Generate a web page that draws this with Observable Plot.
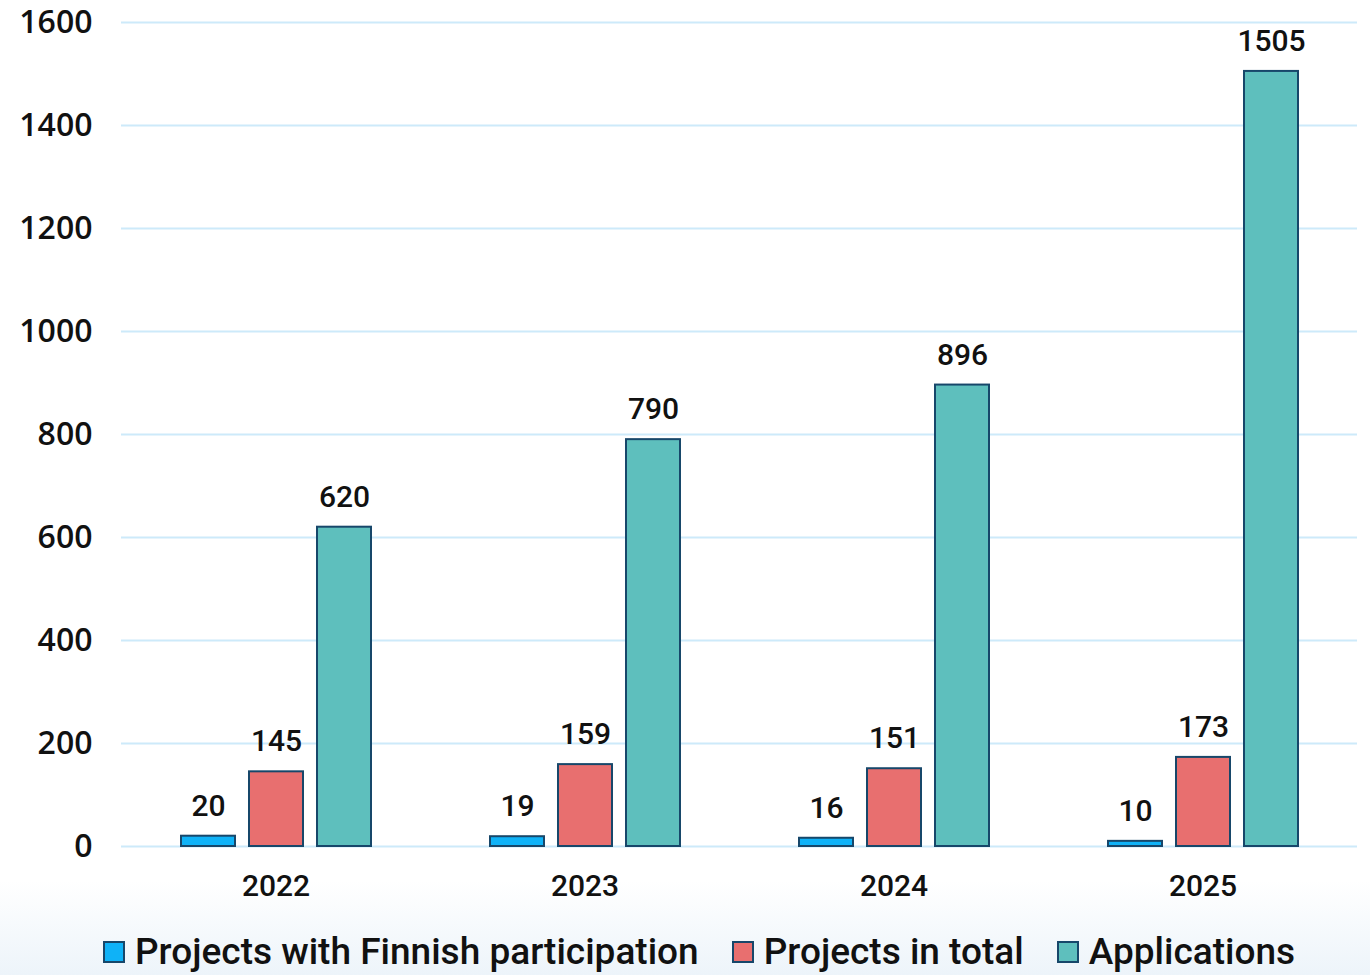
<!DOCTYPE html>
<html>
<head>
<meta charset="utf-8">
<script src="https://cdn.jsdelivr.net/npm/d3@7"></script>
<script src="https://cdn.jsdelivr.net/npm/@observablehq/plot@0.6"></script>
<style>
  html, body { margin: 0; padding: 0; }
  body {
    width: 1370px; height: 975px; overflow: hidden;
    background: linear-gradient(to bottom, #ffffff 0px, #ffffff 880px, #edf4fa 975px);
    font-family: Roboto, sans-serif;
  }
  #chart svg { display: block; background: transparent; }
  #legend {
    display: flex; align-items: center; height: 65px;
    padding-left: 103px; padding-top: 18px; box-sizing: border-box;
    font-family: Roboto, sans-serif; font-weight: 500; font-size: 37px; color: #111;
  }
  .item { display: flex; align-items: center; margin-right: 33px; white-space: nowrap; }
  .sw { width: 18px; height: 18px; border: 2px solid #17476a; margin-right: 10px; }
</style>
</head>
<body>
<div id="chart"></div>
<div id="legend"></div>
<script>
const years = ["2022", "2023", "2024", "2025"];
const seriesNames = ["Projects with Finnish participation", "Projects in total", "Applications"];
const finnish = [20, 19, 16, 10];
const total = [145, 159, 151, 173];
const applications = [620, 790, 896, 1505];
const colors = ["#0fb2f7", "#e86f6f", "#5ebfbd"];
const yTicks = [0, 200, 400, 600, 800, 1000, 1200, 1400, 1600];

const valuesBySeries = [finnish, total, applications];
const data = [];
years.forEach((yr, i) => {
  seriesNames.forEach((s, j) => data.push({year: yr, series: s, value: valuesBySeries[j][i]}));
});

const chart = Plot.plot({
  width: 1370,
  height: 910,
  marginTop: 22,
  marginLeft: 120,
  marginRight: 13,
  marginBottom: 64,
  style: {background: "transparent", fontFamily: "Roboto, sans-serif"},
  fx: {domain: years, padding: 0, label: null},
  x: {domain: seriesNames, paddingInner: 0.21, paddingOuter: 0.85, axis: null},
  y: {domain: [0, 1600], label: null},
  color: {domain: seriesNames, range: colors},
  marks: [
    Plot.ruleY(yTicks, {stroke: "#cdeafa", strokeWidth: 2}),
    Plot.axisY({ticks: yTicks, tickFormat: d => String(d), tickSize: 0, tickPadding: 29, fontSize: 32, fontFamily: "Open Sans, sans-serif", fontWeight: 600, fill: "#111", label: null}),
    Plot.axisFx({tickSize: 0, tickPadding: 28, fontSize: 30, fontWeight: 500, fill: "#111", label: null, anchor: "bottom"}),
    Plot.barY(data, {fx: "year", x: "series", y: "value", fill: "series", stroke: "#17476a", strokeWidth: 2}),
    Plot.text(data, {fx: "year", x: "series", y: "value", text: d => String(d.value), dy: -30, fontSize: 30, fontWeight: 500, fill: "#111"})
  ]
});
document.getElementById("chart").appendChild(chart);

const legend = document.getElementById("legend");
seriesNames.forEach((s, j) => {
  const item = document.createElement("div");
  item.className = "item";
  const sw = document.createElement("div");
  sw.className = "sw";
  sw.style.background = colors[j];
  const t = document.createElement("span");
  t.textContent = s;
  item.appendChild(sw);
  item.appendChild(t);
  legend.appendChild(item);
});
</script>
</body>
</html>
